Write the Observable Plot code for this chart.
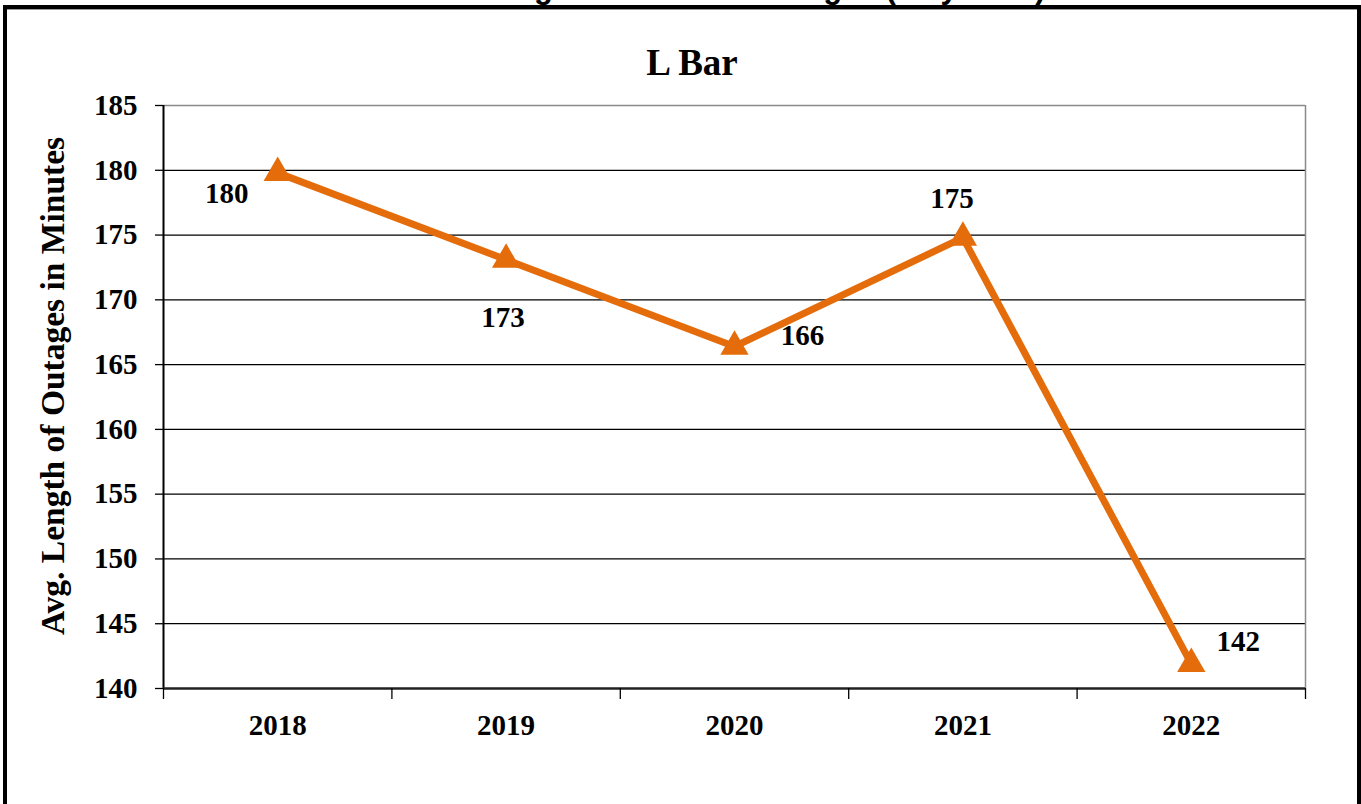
<!DOCTYPE html>
<html>
<head>
<meta charset="utf-8">
<script src="https://cdn.jsdelivr.net/npm/d3@7"></script>
<script src="https://cdn.jsdelivr.net/npm/@observablehq/plot@0.6"></script>
<style>
  html, body { margin: 0; padding: 0; background: #fff; }
  #wrap { position: relative; width: 1361px; height: 804px; overflow: hidden; background: #fff; }
  #chart { position: absolute; left: 0; top: 0; }
  #frame { position: absolute; left: 3px; top: 5px; width: 1358px; height: 900px; box-sizing: border-box;
           border: 4px solid #000; box-shadow: inset 0 1px 0 #999; pointer-events: none; }
  #overlay { position: absolute; left: 0; top: 0; pointer-events: none; }
</style>
</head>
<body>
<div id="wrap">
  <div id="chart"></div>
  <div id="frame"></div>
  <svg id="overlay" width="1361" height="804" xmlns="http://www.w3.org/2000/svg">
    <text x="449" y="-2" font-family="'Liberation Sans', Arial, sans-serif" font-weight="bold" font-size="31" fill="#000">Average Duration of Outages (July 2022)</text>
    <text x="692" y="75" text-anchor="middle" font-family="'Liberation Serif', 'Times New Roman', serif" font-weight="bold" font-size="37" fill="#000">L Bar</text>
    <text transform="translate(64,386) rotate(-90)" text-anchor="middle" font-family="'Liberation Serif', 'Times New Roman', serif" font-weight="bold" font-size="33.5" fill="#000">Avg. Length of Outages in Minutes</text>
  </svg>
</div>
<script>
// ---- data ----
const years = ["2018", "2019", "2020", "2021", "2022"];
const values = [179.8, 173.1, 166.4, 174.8, 141.9];
const valueLabels = ["180", "173", "166", "175", "142"];
const yTicks = [140, 145, 150, 155, 160, 165, 170, 175, 180, 185];

// ---- rendering ----
const data = years.map((year, i) => ({ i, year, value: values[i], label: valueLabels[i] }));
const orange = "#E46C0A";
const serif = "'Liberation Serif', 'Times New Roman', serif";
// per-point label placement (styling)
const labelOffset = [[-51, 21], [-3, 58], [68, -11], [-11, -39], [47, -22]];
const boundaries = d3.range(-0.5, years.length, 1);

const chart = Plot.plot({
  width: 1361,
  height: 804,
  marginLeft: 163,
  marginRight: 56,
  marginTop: 105,
  marginBottom: 116,
  style: { fontFamily: serif, fontWeight: "bold", fontSize: "29px", color: "#000", background: "transparent" },
  x: { type: "linear", domain: [-0.5, years.length - 0.5], axis: null },
  y: { domain: [140, 185], axis: null },
  marks: [
    Plot.gridY(yTicks.filter(t => t > 140 && t < 185), { stroke: "#000", strokeOpacity: 1, strokeWidth: 1.3 }),
    Plot.ruleY([185], { stroke: "#8a8a8a", strokeWidth: 1.5 }),
    Plot.ruleX([years.length - 0.5], { stroke: "#8a8a8a", strokeWidth: 1.5 }),
    Plot.ruleX([-0.5], { stroke: "#000", strokeWidth: 2 }),
    Plot.ruleY([140], { stroke: "#222", strokeWidth: 2.5 }),
    Plot.axisY({ ticks: yTicks, tickSize: 8, tickPadding: 18, tickFormat: d => String(d), stroke: "#000", strokeWidth: 1.3, fill: "#000", label: null }),
    Plot.axisX({ ticks: boundaries, tickSize: 11, tickFormat: () => "", stroke: "#000", strokeWidth: 1.3, label: null }),
    Plot.axisX({ ticks: years.map((_, i) => i), tickSize: 0, tickPadding: 26, tickFormat: i => years[i], fill: "#000", label: null }),
    Plot.line(data, { x: "i", y: "value", stroke: orange, strokeWidth: 7, strokeLinejoin: "miter" }),
    Plot.dot(data, { x: "i", y: "value", symbol: "triangle", r: 10.5, fill: orange, stroke: "none" }),
    ...data.map((d, k) => Plot.text([d], {
      x: "i", y: "value", text: "label",
      dx: labelOffset[k][0], dy: labelOffset[k][1],
      fill: "#000", fontSize: 29, fontWeight: "bold", fontFamily: serif
    }))
  ]
});
document.getElementById("chart").appendChild(chart);
</script>
</body>
</html>
